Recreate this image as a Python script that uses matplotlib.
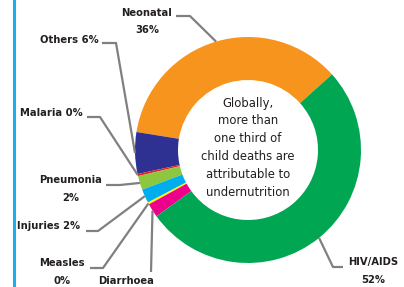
import numpy as np
import matplotlib
matplotlib.use('Agg')
import matplotlib.pyplot as plt
from matplotlib import font_manager

# causes, counterclockwise from the orange/green boundary
causes = ['Neonatal', 'Others', 'Malaria', 'Pneumonia', 'Injuries', 'Measles', 'Diarrhoea', 'HIV/AIDS']
shares = [36, 6, 0.3, 2, 2, 0.3, 2, 52]   # 0% causes drawn as hairline slices
labels = ['Neonatal\n36%', 'Others 6%', 'Malaria 0%', 'Pneumonia\n2%', 'Injuries 2%',
          'Measles\n0%', 'Diarrhoea', 'HIV/AIDS\n52%']
colors = ['#F7941D', '#2E3192', '#ED1C24', '#8DC63F', '#00AEEF', '#FFF200', '#EC008C', '#00A651']
center_text = 'Globally,\nmore than\none third of\nchild deaths are\nattributable to\nundernutrition'


def find_narrow():
    # look for any condensed / narrow face installed
    reg, bold = None, None
    for f in font_manager.fontManager.ttflist:
        tag = (f.name + ' ' + f.fname).lower()
        if 'condensed' in tag or 'narrow' in tag or f.stretch in ('condensed', 'semi-condensed'):
            if 'italic' in tag or 'oblique' in tag or f.style != 'normal':
                continue
            if f.weight in ('bold', 700) or 'bold' in tag:
                bold = bold or f.fname
            elif f.weight in ('normal', 'regular', 400, 'book'):
                reg = reg or f.fname
    return reg, bold


reg_file, bold_file = find_narrow()
if reg_file and bold_file:
    center_font = font_manager.FontProperties(fname=reg_file, size=9.3)
    label_font = font_manager.FontProperties(fname=bold_file, size=8.0)
else:
    center_font = font_manager.FontProperties(family='Liberation Sans', size=9.3)
    label_font = font_manager.FontProperties(family='Liberation Sans', weight='bold', size=8.0)
center_ls, label_ls = 1.48, 1.9

W, H = 404, 287
fig = plt.figure(figsize=(W / 100, H / 100), dpi=100)
ax = fig.add_axes([0, 0, 1, 1])

cx, cy, R = 248, H - 150, 113
wedges, _ = ax.pie(shares, colors=colors, startangle=42, counterclock=True,
                   center=(cx, cy), radius=R, frame=True,
                   wedgeprops=dict(width=R - 70, edgecolor='none'))
ax.set_xlim(0, W)
ax.set_ylim(0, H)
ax.axis('off')
ax.set_aspect('equal')

ax.text(cx, H - 147.5, center_text, ha='center', va='center', fontproperties=center_font,
        linespacing=center_ls, color='#231F20')

# label position (image px), elbow start, elbow end, alignment
layout = {
    'Neonatal':  ((147, 21.5), (176, 16), (190, 16), 'center'),
    'Others':    ((99, 40), (102, 43), (116, 43), 'right'),
    'Malaria':   ((83, 113), (87, 117), (100, 117), 'right'),
    'Pneumonia': ((71, 189), (106, 185), (120, 185), 'center'),
    'Injuries':  ((80, 226), (86, 231), (98, 231), 'right'),
    'Measles':   ((62, 272), (90, 268), (103, 268), 'center'),
    'Diarrhoea': ((126, 281), (151, 272), (151, 272), 'center'),
    'HIV/AIDS':  ((373, 271), (343, 267), (333, 267), 'center'),
}

for w, name, lab in zip(wedges, causes, labels):
    ang = np.deg2rad((w.theta1 + w.theta2) / 2)
    px, py = cx + R * np.cos(ang), cy + R * np.sin(ang)
    (tx, ty), p1, p2, ha = layout[name]
    ax.plot([p1[0], p2[0], px], [H - p1[1], H - p2[1], py], color='#808080', lw=1.6,
            solid_capstyle='butt', zorder=1)
    ax.text(tx, H - ty, lab, ha=ha, va='center', fontproperties=label_font,
            linespacing=label_ls, multialignment='center', color='#231F20')

ax.plot([14, 14], [0, H], color='#1CB0EA', lw=2.2)

fig.savefig('out.png', dpi=100)
